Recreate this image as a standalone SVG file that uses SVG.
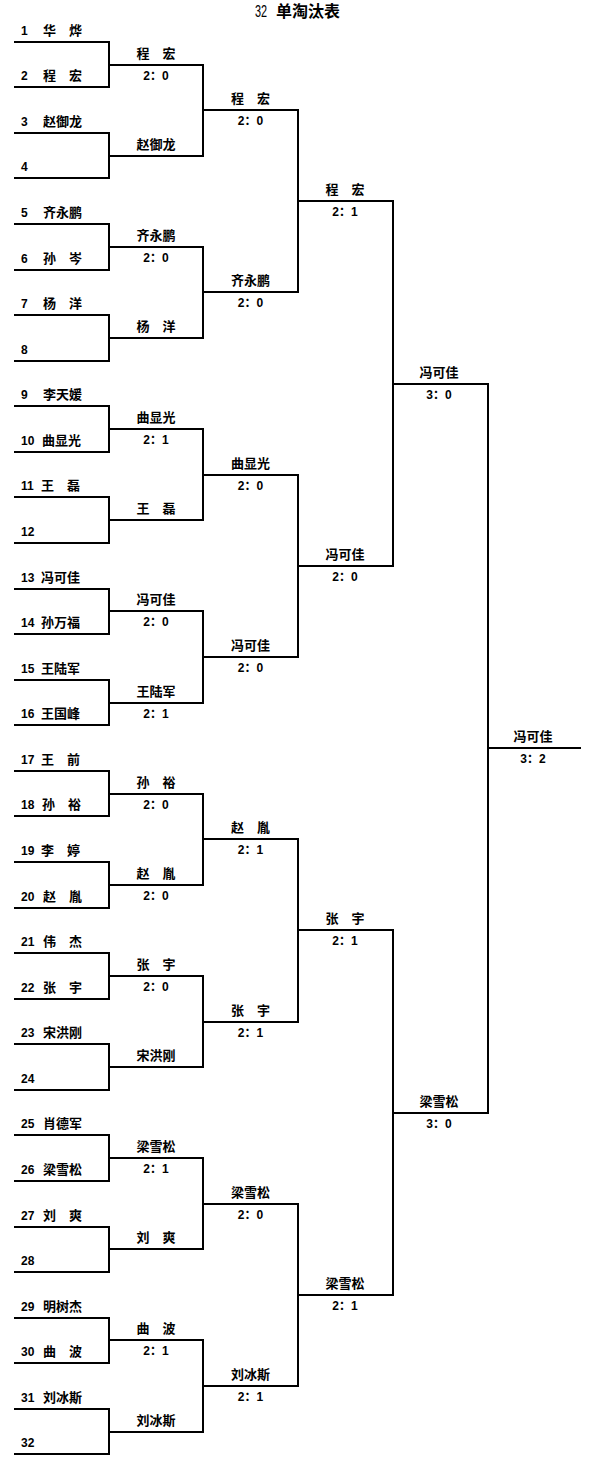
<svg xmlns="http://www.w3.org/2000/svg" width="593" height="1468" viewBox="0 0 593 1468">
<style>
text{font-family:"Liberation Sans","Noto Sans CJK SC",sans-serif;font-weight:bold;fill:#000}
.p{font-size:12px}
.nm{font-size:13px}
.w{font-size:13px;text-anchor:middle}
.s{font-size:12px;text-anchor:middle}
.ln{fill:none;stroke:#000;stroke-width:2;stroke-linejoin:miter}
</style>
<rect width="593" height="1468" fill="#fff"/>
<g id="title">
<text transform="translate(255,17) scale(0.68,1)" style="font-size:16px;font-weight:normal">32</text>
<text x="276" y="17" style="font-size:16px">单淘汰表</text>
</g>
<g id="connectors" class="ln">
<path d="M14 42H109V87H14M14 133H109V178H14M14 224H109V270H14M14 315H109V361H14M14 406H109V452H14M14 497H109V543H14M14 589H109V634H14M14 680H109V725H14M14 771H109V816H14M14 862H109V908H14M14 953H109V999H14M14 1044H109V1090H14M14 1135H109V1181H14M14 1227H109V1272H14M14 1318H109V1363H14M14 1409H109V1454H14"/>
<path d="M109 65H203V156H109M109 247H203V338H109M109 429H203V520H109M109 611H203V703H109M109 794H203V885H109M109 976H203V1067H109M109 1158H203V1249H109M109 1340H203V1432H109"/>
<path d="M203 110H298V292H203M203 475H298V657H203M203 839H298V1022H203M203 1204H298V1386H203"/>
<path d="M298 201H393V566H298M298 930H393V1295H298"/>
<path d="M393 384H488V1113H393"/>
<path d="M488 748H581"/>
</g>
<g id="players">
<g id="p1"><text class="p" x="21" y="35">1<tspan class="nm" x="43">华　烨</tspan></text></g>
<g id="p2"><text class="p" x="21" y="80">2<tspan class="nm" x="43">程　宏</tspan></text></g>
<g id="p3"><text class="p" x="21" y="126">3<tspan class="nm" x="43">赵御龙</tspan></text></g>
<g id="p4"><text class="p" x="21" y="171">4</text></g>
<g id="p5"><text class="p" x="21" y="217">5<tspan class="nm" x="43">齐永鹏</tspan></text></g>
<g id="p6"><text class="p" x="21" y="263">6<tspan class="nm" x="43">孙　岑</tspan></text></g>
<g id="p7"><text class="p" x="21" y="308">7<tspan class="nm" x="43">杨　洋</tspan></text></g>
<g id="p8"><text class="p" x="21" y="354">8</text></g>
<g id="p9"><text class="p" x="21" y="399">9<tspan class="nm" x="43">李天媛</tspan></text></g>
<g id="p10"><text class="p" x="21" y="445">10<tspan class="nm" x="42">曲显光</tspan></text></g>
<g id="p11"><text class="p" x="21" y="490">11<tspan class="nm" x="41">王　磊</tspan></text></g>
<g id="p12"><text class="p" x="21" y="536">12</text></g>
<g id="p13"><text class="p" x="21" y="582">13<tspan class="nm" x="41">冯可佳</tspan></text></g>
<g id="p14"><text class="p" x="21" y="627">14<tspan class="nm" x="41">孙万福</tspan></text></g>
<g id="p15"><text class="p" x="21" y="673">15<tspan class="nm" x="41">王陆军</tspan></text></g>
<g id="p16"><text class="p" x="21" y="718">16<tspan class="nm" x="41">王国峰</tspan></text></g>
<g id="p17"><text class="p" x="21" y="764">17<tspan class="nm" x="41">王　前</tspan></text></g>
<g id="p18"><text class="p" x="21" y="809">18<tspan class="nm" x="42">孙　裕</tspan></text></g>
<g id="p19"><text class="p" x="21" y="855">19<tspan class="nm" x="41">李　婷</tspan></text></g>
<g id="p20"><text class="p" x="21" y="901">20<tspan class="nm" x="43">赵　胤</tspan></text></g>
<g id="p21"><text class="p" x="21" y="946">21<tspan class="nm" x="43">伟　杰</tspan></text></g>
<g id="p22"><text class="p" x="21" y="992">22<tspan class="nm" x="43">张　宇</tspan></text></g>
<g id="p23"><text class="p" x="21" y="1037">23<tspan class="nm" x="43">宋洪刚</tspan></text></g>
<g id="p24"><text class="p" x="21" y="1083">24</text></g>
<g id="p25"><text class="p" x="21" y="1128">25<tspan class="nm" x="43">肖德军</tspan></text></g>
<g id="p26"><text class="p" x="21" y="1174">26<tspan class="nm" x="43">梁雪松</tspan></text></g>
<g id="p27"><text class="p" x="21" y="1220">27<tspan class="nm" x="43">刘　爽</tspan></text></g>
<g id="p28"><text class="p" x="21" y="1265">28</text></g>
<g id="p29"><text class="p" x="21" y="1311">29<tspan class="nm" x="43">明树杰</tspan></text></g>
<g id="p30"><text class="p" x="21" y="1356">30<tspan class="nm" x="43">曲　波</tspan></text></g>
<g id="p31"><text class="p" x="21" y="1402">31<tspan class="nm" x="43">刘冰斯</tspan></text></g>
<g id="p32"><text class="p" x="21" y="1447">32</text></g>
</g>
<g id="round1">
<g id="r1m1"><text class="w" x="156" y="58">程　宏</text><text class="s" x="156" y="80">2：0</text></g>
<g id="r1m2"><text class="w" x="156" y="149">赵御龙</text></g>
<g id="r1m3"><text class="w" x="156" y="240">齐永鹏</text><text class="s" x="156" y="262">2：0</text></g>
<g id="r1m4"><text class="w" x="156" y="331">杨　洋</text></g>
<g id="r1m5"><text class="w" x="156" y="422">曲显光</text><text class="s" x="156" y="444">2：1</text></g>
<g id="r1m6"><text class="w" x="156" y="513">王　磊</text></g>
<g id="r1m7"><text class="w" x="156" y="604">冯可佳</text><text class="s" x="156" y="626">2：0</text></g>
<g id="r1m8"><text class="w" x="156" y="696">王陆军</text><text class="s" x="156" y="718">2：1</text></g>
<g id="r1m9"><text class="w" x="156" y="787">孙　裕</text><text class="s" x="156" y="809">2：0</text></g>
<g id="r1m10"><text class="w" x="156" y="878">赵　胤</text><text class="s" x="156" y="900">2：0</text></g>
<g id="r1m11"><text class="w" x="156" y="969">张　宇</text><text class="s" x="156" y="991">2：0</text></g>
<g id="r1m12"><text class="w" x="156" y="1060">宋洪刚</text></g>
<g id="r1m13"><text class="w" x="156" y="1151">梁雪松</text><text class="s" x="156" y="1173">2：1</text></g>
<g id="r1m14"><text class="w" x="156" y="1242">刘　爽</text></g>
<g id="r1m15"><text class="w" x="156" y="1333">曲　波</text><text class="s" x="156" y="1355">2：1</text></g>
<g id="r1m16"><text class="w" x="156" y="1425">刘冰斯</text></g>
</g>
<g id="round2">
<g id="r2m1"><text class="w" x="250.5" y="103">程　宏</text><text class="s" x="250.5" y="125">2：0</text></g>
<g id="r2m2"><text class="w" x="250.5" y="285">齐永鹏</text><text class="s" x="250.5" y="307">2：0</text></g>
<g id="r2m3"><text class="w" x="250.5" y="468">曲显光</text><text class="s" x="250.5" y="490">2：0</text></g>
<g id="r2m4"><text class="w" x="250.5" y="650">冯可佳</text><text class="s" x="250.5" y="672">2：0</text></g>
<g id="r2m5"><text class="w" x="250.5" y="832">赵　胤</text><text class="s" x="250.5" y="854">2：1</text></g>
<g id="r2m6"><text class="w" x="250.5" y="1015">张　宇</text><text class="s" x="250.5" y="1037">2：1</text></g>
<g id="r2m7"><text class="w" x="250.5" y="1197">梁雪松</text><text class="s" x="250.5" y="1219">2：0</text></g>
<g id="r2m8"><text class="w" x="250.5" y="1379">刘冰斯</text><text class="s" x="250.5" y="1401">2：1</text></g>
</g>
<g id="round3">
<g id="r3m1"><text class="w" x="345" y="194">程　宏</text><text class="s" x="345" y="216">2：1</text></g>
<g id="r3m2"><text class="w" x="345" y="559">冯可佳</text><text class="s" x="345" y="581">2：0</text></g>
<g id="r3m3"><text class="w" x="345" y="923">张　宇</text><text class="s" x="345" y="945">2：1</text></g>
<g id="r3m4"><text class="w" x="345" y="1288">梁雪松</text><text class="s" x="345" y="1310">2：1</text></g>
</g>
<g id="round4">
<g id="r4m1"><text class="w" x="439" y="377">冯可佳</text><text class="s" x="439" y="399">3：0</text></g>
<g id="r4m2"><text class="w" x="439" y="1106">梁雪松</text><text class="s" x="439" y="1128">3：0</text></g>
</g>
<g id="final">
<g id="r5m1"><text class="w" x="533" y="741">冯可佳</text><text class="s" x="533" y="763">3：2</text></g>
</g>
</svg>
